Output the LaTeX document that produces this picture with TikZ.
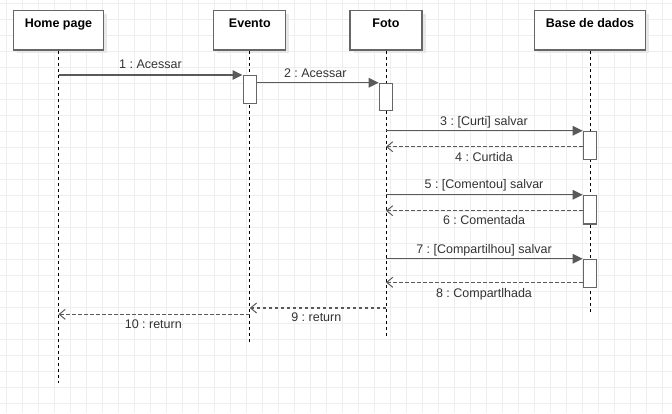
\documentclass[tikz,border=0pt]{standalone}
\usepackage{fontspec}
\setmainfont{Liberation Sans}
\usetikzlibrary{arrows.meta,calc,shadows}
\definecolor{gridc}{HTML}{EEEEEE}
\definecolor{boxc}{HTML}{666666}
\definecolor{msgc}{HTML}{5A5A5A}
\definecolor{txtc}{HTML}{333333}
\definecolor{shadc}{HTML}{E8E8E8}
\frenchspacing
\begin{document}
\begin{tikzpicture}[x=1pt,y=-1pt,
  obj/.style={draw=boxc, line width=1.3pt, fill=white, minimum height=39.3pt, inner sep=0pt,
    general shadow={fill=shadc, shadow xshift=3.5pt, shadow yshift=-3.5pt}},
  objtitle/.style={anchor=base, font=\fontsize{12.5}{14}\selectfont\bfseries, text=black, inner sep=0pt},
  act/.style={draw=boxc, line width=1.3pt, fill=white, minimum width=13.3pt, inner sep=0pt, anchor=north},
  life/.style={draw=black, line width=0.9pt, dash pattern=on 3pt off 3pt},
  call/.style={draw=msgc, line width=1.4pt, -{Triangle[length=10pt,width=9.5pt]}},
  ret/.style={draw=msgc, line width=1.4pt, dash pattern=on 3.5pt off 2.5pt, -{Straight Barb[length=6pt,width=10pt,line width=1pt]}},
  lbl/.style={anchor=base, font=\fontsize{12.5}{14}\selectfont, text=txtc, inner sep=0pt}]
\useasboundingbox (0,0) rectangle (672,413);
\fill[white] (0,0) rectangle (672,413);
% grid
\foreach \x in {6.5,22.5,...,672} \draw[gridc, line width=0.8pt] (\x,0) -- (\x,413);
\foreach \y in {3.7,19.7,...,413} \draw[gridc, line width=0.8pt] (0,\y) -- (672,\y);
% objects
\node[obj, minimum width=90pt] (hp) at (58.5,30.3) {};
\node[obj, minimum width=72pt] (ev) at (249.8,30.3) {};
\node[obj, minimum width=72pt] (ft) at (386,30.3) {};
\node[obj, minimum width=111pt] (db) at (590,30.3) {};
\node[objtitle] (hpt) at ($(hp.north)+(0,17.8)$) {Home page};
\node[objtitle] (evt) at ($(ev.north)+(0,17.8)$) {Evento};
\node[objtitle] (ftt) at ($(ft.north)+(0,17.8)$) {Foto};
\node[objtitle] (dbt) at ($(db.north)+(0,17.8)$) {Base de dados};
% lifeline ends
\coordinate (hpe) at (hp.south |- 0,383);
\coordinate (eve) at (ev.south |- 0,341.7);
\coordinate (fte) at (ft.south |- 0,336.7);
\coordinate (dbe) at (db.south |- 0,311.7);
\draw[life] (hp.south) -- (hpe);
\draw[life] (ev.south) -- (eve);
\draw[life] (ft.south) -- (fte);
\draw[life] (db.south) -- (dbe);
% activations
\node[act, minimum height=27.7pt] (a1) at (ev.south |- 0,75) {};
\node[act, minimum height=27.3pt] (a2) at (ft.south |- 0,82.7) {};
\node[act, minimum height=28.3pt] (b1) at (db.south |- 0,130.7) {};
\node[act, minimum height=28.6pt] (b2) at (db.south |- 0,194.7) {};
\node[act, minimum height=28.3pt] (b3) at (db.south |- 0,258.7) {};
% messages
\draw[call] (hp.south |- a1.north) -- (a1.north west);
\node[lbl] (m1) at (150.5,68.5) {1 : Acessar};
\draw[call] (a1.east |- a2.north) -- (a2.north west);
\node[lbl] (m2) at (315.3,77) {2 : Acessar};
\draw[call] (ft.south |- b1.north) -- (b1.north west);
\node[lbl] (m3) at (484,125.2) {3 : [Curti] salvar};
\draw[ret] (b1.west |- 0,146.7) -- (ft.south |- 0,146.7);
\node[lbl] (m4) at (484,161.2) {4 : Curtida};
\draw[call] (ft.south |- b2.north) -- (b2.north west);
\node[lbl] (m5) at (484,188.5) {5 : [Comentou] salvar};
\draw[ret] (b2.west |- 0,210.7) -- (ft.south |- 0,210.7);
\node[lbl] (m6) at (484,224.5) {6 : Comentada};
\draw[call] (ft.south |- b3.north) -- (b3.north west);
\node[lbl] (m7) at (484,253.5) {7 : [Compartilhou] salvar};
\draw[ret] (b3.west |- 0,282.3) -- (ft.south |- 0,282.3);
\node[lbl] (m8) at (484,297.2) {8 : Compartlhada};
\draw[ret] (ft.south |- 0,308) -- (ev.south |- 0,308);
\node[lbl] (m9) at (316.3,321.8) {9 : return};
\draw[ret] (ev.south |- 0,314.3) -- (hp.south |- 0,314.3);
\node[lbl] (m10) at (153.3,328.8) {10 : return};
\end{tikzpicture}
\end{document}
